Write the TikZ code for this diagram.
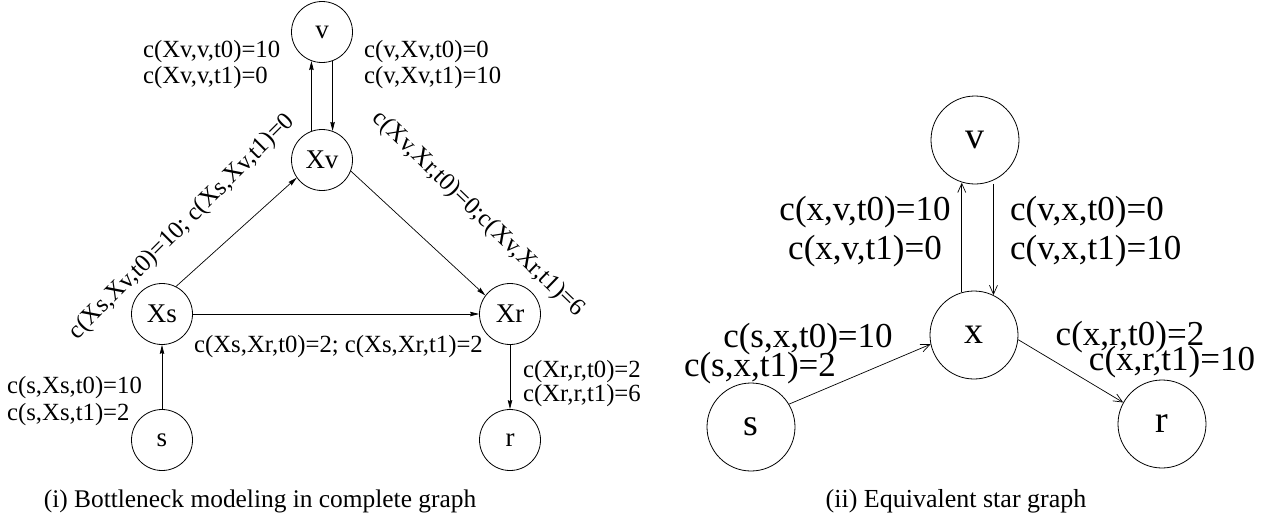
\documentclass[tikz,border=0pt]{standalone}
\usepackage{fontspec}
\setmainfont{Liberation Serif}
\usetikzlibrary{arrows.meta}
\begin{document}
\begin{tikzpicture}[x=1pt,y=-1pt,
  nd/.style={draw,circle,line width=0.8pt,minimum size=61pt,inner sep=0pt,font=\fontsize{27}{30}\selectfont},
  ndb/.style={draw,circle,line width=0.8pt,minimum size=88pt,inner sep=0pt,font=\fontsize{38}{40}\selectfont},
  lab/.style={inner sep=0pt,font=\fontsize{24.7}{26}\selectfont},
  labb/.style={inner sep=0pt,font=\fontsize{35}{39}\selectfont},
  arr/.style={line width=0.7pt,-{Stealth[length=9pt,width=4.5pt,inset=1pt]}},
  arrb/.style={line width=0.7pt,-{Straight Barb[length=9pt,width=8pt]}},
  captext/.style={inner sep=0pt,font=\fontsize{25.4}{28}\selectfont}]
\useasboundingbox (0,0) rectangle (1262,523);
% left panel
\node[nd] (v) at (322,32) {v};
\node[nd] (Xv) at (322,160) {Xv};
\node[nd] (Xs) at (162,314) {Xs};
\node[nd] (Xr) at (510,314) {Xr};
\node[nd] (s) at (162,440) {s};
\node[nd] (r) at (510,440) {r};
\draw[arr] (Xv.110) -- (v.250);
\draw[arr] (v.290) -- (Xv.70);
\draw[arr] (Xs.63) -- (Xv.215);
\draw[arr] (Xv.-21) -- (Xr.143);
\draw[arr] (Xs) -- (Xr);
\draw[arr] (s) -- (Xs);
\draw[arr] (Xr) -- (r);
\node[lab,align=left,anchor=west] (l1) at (143,65) {c(Xv,v,t0)=10\\c(Xv,v,t1)=0};
\node[lab,align=left,anchor=west] (l2) at (364,65) {c(v,Xv,t0)=0\\c(v,Xv,t1)=10};
\node[lab,rotate=45] (l3) at (182,227) {c(Xs,Xv,t0)=10; c(Xs,Xv,t1)=0};
\node[lab,rotate=-44] (l4) at (478,214) {c(Xv,Xr,t0)=0;c(Xv,Xr,t1)=6};
\node[lab,anchor=west] (l5) at (194,347) {c(Xs,Xr,t0)=2; c(Xs,Xr,t1)=2};
\node[lab,align=left,anchor=west,font=\fontsize{24.7}{27}\selectfont] (l6) at (7,401) {c(s,Xs,t0)=10\\c(s,Xs,t1)=2};
\node[lab,align=left,anchor=west,font=\fontsize{24.7}{24}\selectfont] (l7) at (523,384) {c(Xr,r,t0)=2\\c(Xr,r,t1)=6};
\node[captext,anchor=base] (c1) at (260,507) {(i) Bottleneck modeling in complete graph};
% right panel
\node[ndb] (V) at (975,140) {v};
\node[ndb] (x) at (974,335) {x};
\node[ndb] (S) at (751,427) {s};
\node[ndb] (R) at (1162,424) {r};
\draw[arrb] (x.106) -- (x.106 |- V.254);
\draw[arrb] ([yshift=-4pt]V.296 -| x.64) -- (x.64);
\draw[arrb] (S.31) -- (x.192);
\draw[arrb] (x.-6) -- (R.151);
\node[labb,align=center] (m1) at (865,232) {c(x,v,t0)=10\\c(x,v,t1)=0};
\node[labb,align=left,anchor=west] (m2) at (1010,232) {c(v,x,t0)=0\\c(v,x,t1)=10};
\node[labb] (m3) at (808,339) {c(s,x,t0)=10};
\node[labb] (m4) at (760,368) {c(s,x,t1)=2};
\node[labb] (m5) at (1130,337) {c(x,r,t0)=2};
\node[labb] (m6) at (1172,362) {c(x,r,t1)=10};
\node[captext,anchor=base,font=\fontsize{26}{28}\selectfont] (c2) at (956,507) {(ii) Equivalent star graph};
\end{tikzpicture}
\end{document}
